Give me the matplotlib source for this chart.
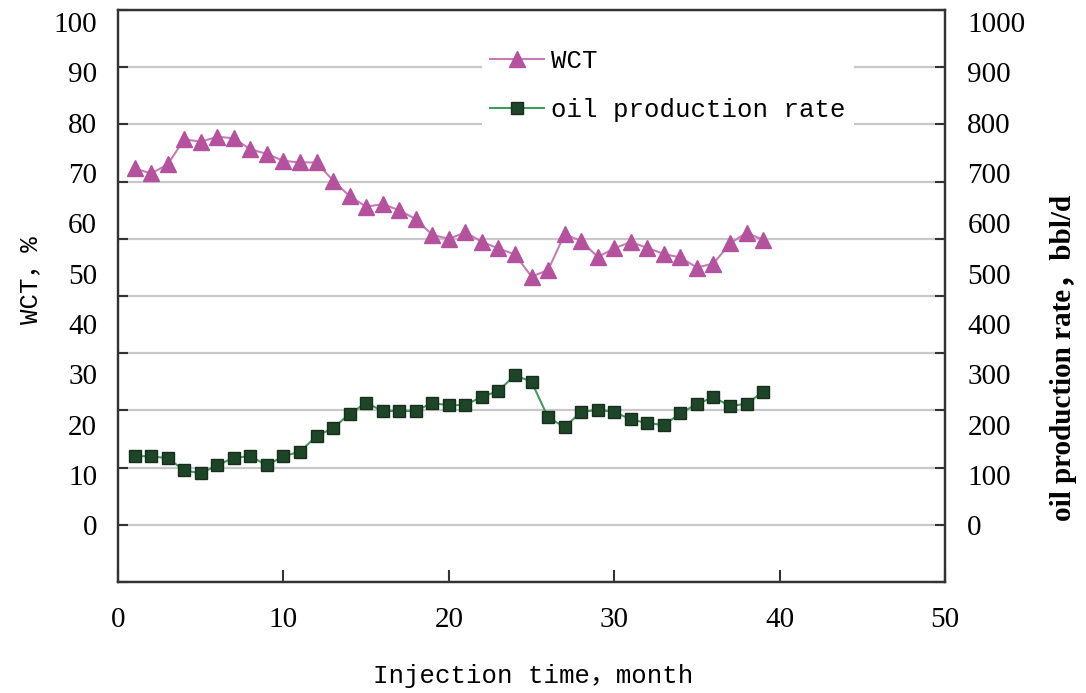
import numpy as np
import matplotlib
matplotlib.use('Agg')
import matplotlib.pyplot as plt

# monthly data, months 1..39
months = np.arange(1, 40)
wct = [70.9, 69.9, 71.7, 76.7, 76.2, 77.2, 76.9, 74.7, 73.8, 72.4,
       72.1, 72.1, 68.5, 65.4, 63.3, 63.8, 62.6, 60.8, 57.7, 56.9,
       58.2, 56.3, 55.0, 53.8, 49.4, 50.7, 57.8, 56.5, 53.3, 55.0,
       56.3, 55.1, 53.9, 53.2, 51.2, 52.0, 56.0, 58.1, 56.7]
oil_rate = [137, 137, 133, 109, 103, 119, 134, 137, 119, 137,
            146, 177, 193, 221, 243, 227, 227, 227, 243, 238,
            239, 255, 267, 298, 285, 214, 195, 225, 229, 225,
            210, 203, 199, 222, 241, 254, 237, 241, 265]

wct_ticks = np.arange(0, 101, 10)
rate_ticks = np.arange(0, 1001, 100)
x_ticks = np.arange(0, 51, 10)

ylim = (-11.3, 102.4)
spine_c = '#333333'
grid_c = '#c8c8c8'
num_font = 'Liberation Serif'
txt_font = ['Liberation Mono', 'Noto Sans CJK SC']

fig = plt.figure(figsize=(10.86, 6.93), dpi=100)
ax1 = fig.add_axes([0.1087, 0.1602, 0.7615, 0.8254])
ax2 = ax1.twinx()

l1, = ax1.plot(months, wct, color='#c47db6', lw=1.5, marker='^', ms=11,
               mfc='#b4529d', mec='#b4529d', label='WCT', zorder=3)
l2, = ax2.plot(months, oil_rate, color='#3f9b5e', lw=1.5, marker='s', ms=8,
               mfc='#1d4527', mec='#1a2e1c', mew=1.0, label='oil production rate', zorder=3)

# left axis: labels on the round values, grid on ten equal divisions
ax1.set_xlim(0, 50)
ax1.set_ylim(*ylim)
ax1.set_xticks(x_ticks)
ax1.set_yticks(wct_ticks)
ax1.set_yticks(np.linspace(*ylim, 11), minor=True)
ax1.grid(which='minor', axis='y', color=grid_c, lw=1.6)
ax1.tick_params(axis='y', which='major', length=0, pad=15, labelsize=21)
ax1.tick_params(axis='y', which='minor', direction='in', length=7, width=1.5, color=spine_c)
ax1.tick_params(axis='x', direction='in', length=8.5, width=1.5, color=spine_c, pad=18, labelsize=21)

ax2.set_ylim(ylim[0] * 10, ylim[1] * 10)
ax2.set_yticks(rate_ticks)
ax2.set_yticks(np.linspace(ylim[0] * 10, ylim[1] * 10, 11), minor=True)
ax2.tick_params(axis='y', which='major', length=0, pad=16, labelsize=21)
ax2.tick_params(axis='y', which='minor', direction='in', length=7, width=1.5, color=spine_c)

for ax in (ax1, ax2):
    for sp in ax.spines.values():
        sp.set_color(spine_c)
        sp.set_linewidth(1.6)
    for lab in ax.get_xticklabels() + ax.get_yticklabels():
        lab.set_family(num_font)

leg = ax2.legend([l1, l2], ['WCT', 'oil production rate'], loc='upper left',
                 bbox_to_anchor=(0.44, 0.946), frameon=True, facecolor='white',
                 edgecolor='none', framealpha=1, fancybox=False, borderaxespad=0,
                 borderpad=0.3, handlelength=2.1, handletextpad=0.3, labelspacing=1.0,
                 prop={'family': txt_font, 'size': 18.5})
leg.set_zorder(5)

fig.text(0.491, 0.0245, 'Injection time，month', ha='center', va='center',
         family=txt_font, fontsize=18.5)
fig.text(0.0276, 0.596, 'WCT，%', ha='center', va='center', rotation=90,
         family=txt_font, fontsize=18.5)
fig.text(0.979, 0.483, 'oil production rate，bbl/d', ha='center', va='center',
         rotation=90, family=['Liberation Serif', 'Noto Sans CJK SC'],
         fontweight='bold', fontsize=21)

fig.savefig('out.png', dpi=100)
